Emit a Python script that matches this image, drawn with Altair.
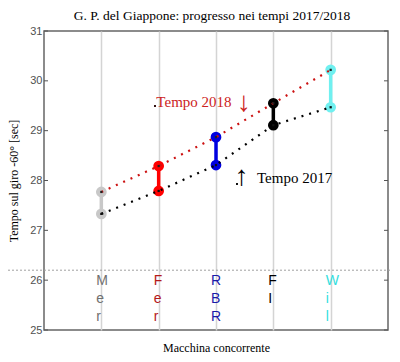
import altair as alt
import pandas as pd

# ---- data ----
teams = ["Mer", "Fer", "RBR", "FI", "Wil"]
time_2018 = [27.77, 28.29, 28.87, 29.55, 30.22]
time_2017 = [27.33, 27.79, 28.31, 29.11, 29.47]
slots = [1, 2, 3, 4, 5]
y_ticks = [25, 26, 27, 28, 29, 30, 31]

# ---- styles ----
marker_colors = ["#c8c8c8", "#ff0000", "#0000e0", "#000000", "#70f0f0"]
letter_colors = ["#707070", "#b41a1a", "#1a1aa8", "#000000", "#33dede"]

df = pd.DataFrame({
    "team": teams, "pos": slots, "t2017": time_2017, "t2018": time_2018,
    "mc": marker_colors, "lc": letter_colors,
    "letters": ["\n".join(list(t)) for t in teams],
})
ticks_df = pd.DataFrame({"v": y_ticks})
one = pd.DataFrame({"k": [0]})

W, H = 344, 299
xs = alt.Scale(domain=[0, 6], nice=False, zero=False)
ys = alt.Scale(domain=[25, 31], nice=False, zero=False)

x_axis = alt.Axis(values=slots, grid=True, gridColor="#d4d4d4", gridWidth=1.5,
                  labels=False, ticks=False, domain=False,
                  title="Macchina concorrente", titleFont="Liberation Serif",
                  titleFontSize=12, titleFontWeight="normal", titleColor="#000",
                  titleX=W / 2, titleY=21, titleBaseline="alphabetic", titleAlign="center")
y_axis = alt.Axis(values=y_ticks, grid=False, ticks=False, domain=False,
                  labelFont="Liberation Sans", labelFontSize=11, labelColor="#505050",
                  labelPadding=2,
                  title="Tempo sul giro -60°  [sec]", titleFont="Liberation Serif",
                  titleFontSize=12, titleFontWeight="normal", titleColor="#000",
                  titleAngle=-90, titleX=-31, titleY=H / 2, titleAlign="center",
                  titleBaseline="middle")


def X(field):
    return alt.X(field, scale=xs, axis=x_axis)


def Y(field):
    return alt.Y(field, scale=ys, axis=y_axis)


def XD(v):
    return alt.XDatum(v, scale=xs, axis=x_axis)


def YD(v):
    return alt.YDatum(v, scale=ys, axis=y_axis)


base = alt.Chart(df)
single = alt.Chart(one)

bars = base.mark_rule(strokeWidth=3.5).encode(
    x=X("pos:Q"), y=Y("t2017:Q"), y2="t2018:Q",
    color=alt.Color("mc:N", scale=None),
)

hline = single.mark_rule(color="#a0a0a0", strokeDash=[2, 2], strokeWidth=1).encode(
    y=YD(26.2), x=alt.value(-36), x2=alt.value(W + 4),
)

c18 = base.mark_circle(size=115, opacity=1).encode(
    x=X("pos:Q"), y=Y("t2018:Q"), color=alt.Color("mc:N", scale=None))
c17 = base.mark_circle(size=115, opacity=1).encode(
    x=X("pos:Q"), y=Y("t2017:Q"), color=alt.Color("mc:N", scale=None))

l18 = base.mark_line(color="#cc1111", strokeDash=[2, 6], strokeWidth=2.2).encode(
    x=X("pos:Q"), y=Y("t2018:Q"))
l17 = base.mark_line(color="#000000", strokeDash=[2, 6], strokeWidth=2.2).encode(
    x=X("pos:Q"), y=Y("t2017:Q"))

d18 = base.mark_square(size=5, color="#222", opacity=1).encode(x=X("pos:Q"), y=Y("t2018:Q"))
d17 = base.mark_square(size=5, color="#111", opacity=1).encode(x=X("pos:Q"), y=Y("t2017:Q"))

letters = base.mark_text(align="left", baseline="alphabetic", dx=-5, lineBreak="\n",
                         lineHeight=18, font="Liberation Sans", fontSize=14,
                         fontWeight="normal").encode(
    x=X("pos:Q"), y=YD(25.9),
    text="letters:N", color=alt.Color("lc:N", scale=None))

ann_font = "Liberation Serif"
a18 = single.mark_text(text="Tempo 2018", align="left", baseline="middle", font=ann_font,
                       fontSize=15, fontWeight="normal", color="#cc2222").encode(
    x=XD(1.96), y=YD(29.575))
a18arr = single.mark_text(text="↓", align="center", baseline="middle", font=ann_font,
                          fontSize=28, fontWeight="normal", color="#cc2222").encode(
    x=XD(3.49), y=YD(29.56))
a18dot = single.mark_square(size=4, color="#331111", opacity=1).encode(
    x=XD(1.936), y=YD(29.495))
a17 = single.mark_text(text="Tempo 2017", align="left", baseline="middle", font=ann_font,
                       fontSize=15, fontWeight="normal", color="#000").encode(
    x=XD(3.715), y=YD(28.05))
a17arr = single.mark_text(text="↑", align="center", baseline="middle", font=ann_font,
                          fontSize=28, fontWeight="normal", color="#000").encode(
    x=XD(3.45), y=YD(28.08))
a17dot = single.mark_square(size=4, color="#111", opacity=1).encode(
    x=XD(3.366), y=YD(27.93))

tick_base = alt.Chart(ticks_df)
tl = tick_base.mark_rule(color="#555", strokeWidth=1).encode(
    y=Y("v:Q"), x=alt.value(0), x2=alt.value(4))
tr = tick_base.mark_rule(color="#555", strokeWidth=1).encode(
    y=Y("v:Q"), x=alt.value(W - 4), x2=alt.value(W))

chart = alt.layer(
    bars, hline, c18, c17, l18, l17, d18, d17, letters,
    a18, a18arr, a18dot, a17, a17arr, a17dot, tl, tr
).properties(
    width=W, height=H,
    autosize=alt.AutoSizeParams(type="none"),
    padding={"left": 36, "top": 23, "right": 4, "bottom": 24},
    title=alt.TitleParams("G. P. del Giappone: progresso nei tempi 2017/2018",
                          font="Liberation Serif", fontSize=13.5, fontWeight="normal",
                          color="#000", anchor="middle", offset=3, dx=-4),
).configure_view(stroke="#666", strokeWidth=1.5)

chart.save("out.html", embed_options={"renderer": "svg", "actions": False})
